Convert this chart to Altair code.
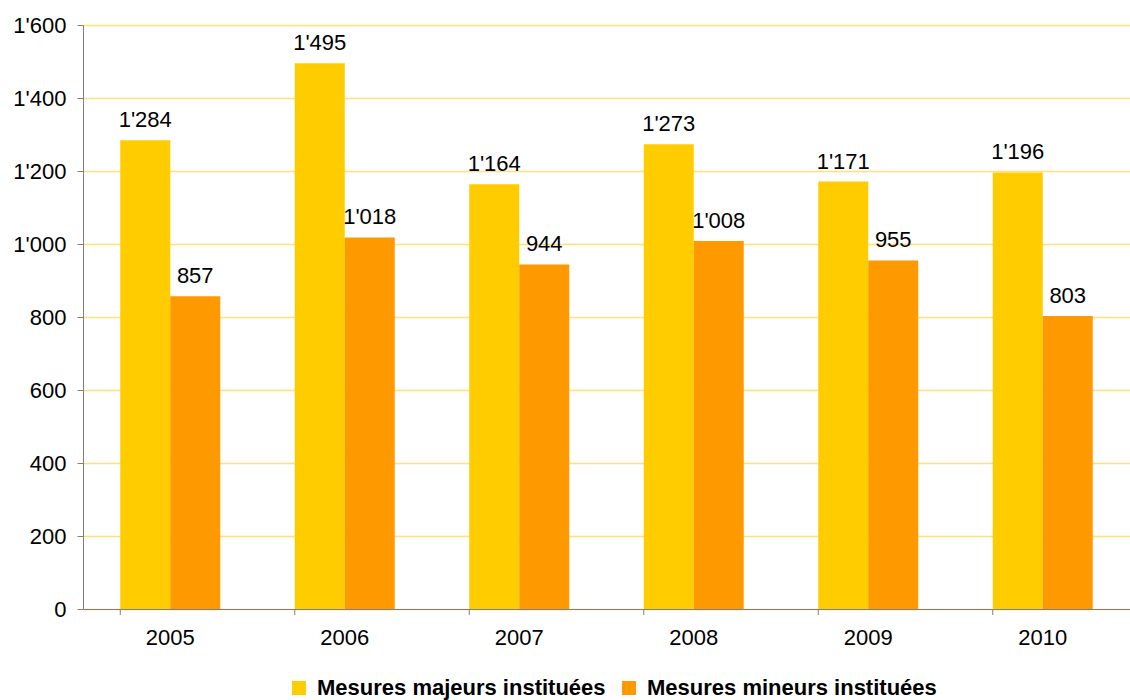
import altair as alt
import pandas as pd

years = ["2005", "2006", "2007", "2008", "2009", "2010"]
series = ["Mesures majeurs instituées", "Mesures mineurs instituées"]
majeurs = [1284, 1495, 1164, 1273, 1171, 1196]
mineurs = [857, 1018, 944, 1008, 955, 803]
colors = ["#FFCC00", "#FF9900"]
y_ticks = [0, 200, 400, 600, 800, 1000, 1200, 1400, 1600]

rows = []
for i, yr in enumerate(years):
    rows.append({"year": yr, "series": series[0], "value": majeurs[i]})
    rows.append({"year": yr, "series": series[1], "value": mineurs[i]})
df = pd.DataFrame(rows)

FONT = "Liberation Sans"
FS = 22
fmt_expr = "replace(format(datum.value, ','), ',', \"'\")"

xscale = alt.Scale(domain=years, paddingInner=0.427, paddingOuter=0.2135)
offscale = alt.Scale(domain=series, paddingInner=0, paddingOuter=0)
yscale = alt.Scale(domain=[0, 1600], nice=False)

x_axis = alt.Axis(
    orient="bottom", title=None, labelAngle=0, ticks=False, domain=True,
    domainColor="#808080", labelFontSize=FS, labelFont=FONT, labelColor="#000000",
    labelFontWeight="normal", labelPadding=18, grid=False,
)
y_axis = alt.Axis(
    title=None, values=y_ticks, labelExpr=fmt_expr, labelFontSize=FS,
    labelFont=FONT, labelColor="#000000", labelPadding=11, tickSize=6,
    tickColor="#808080", domainColor="#808080", gridColor="#FFE07A",
    gridWidth=1.5,
)

base = alt.Chart(df).transform_calculate(lab=fmt_expr)

bars = base.mark_bar().encode(
    x=alt.X("year:N", scale=xscale, axis=x_axis),
    xOffset=alt.XOffset("series:N", scale=offscale, sort=series),
    y=alt.Y("value:Q", scale=yscale, axis=y_axis),
    color=alt.Color(
        "series:N", sort=series,
        scale=alt.Scale(domain=series, range=colors),
        legend=alt.Legend(
            title=None, orient="none", direction="horizontal", legendX=205,
            legendY=652, symbolType="square", symbolSize=196,
            symbolStrokeWidth=0, labelFontSize=FS, labelFont=FONT,
            labelFontWeight="bold", labelColor="#000000", labelLimit=600,
            columnPadding=12, labelOffset=7, padding=0,
        ),
    ),
)

texts = base.mark_text(
    baseline="alphabetic", align="center", dy=-13, fontSize=FS, font=FONT,
    color="#000000",
).encode(
    x=alt.X("year:N", scale=xscale, axis=x_axis),
    xOffset=alt.XOffset("series:N", scale=offscale, sort=series),
    y=alt.Y("value:Q", scale=yscale, axis=y_axis),
    text="lab:N",
)

tick_df = pd.DataFrame({"year": years})
ticks = alt.Chart(tick_df).mark_rule(color="#808080", strokeWidth=1).encode(
    x=alt.X("year:N", scale=xscale, axis=x_axis, bandPosition=0),
    y=alt.value(584),
    y2=alt.value(590),
)

chart = alt.layer(bars, texts, ticks).properties(
    width=1047, height=584,
    padding={"left": 83, "top": 25, "right": 0, "bottom": 91},
    autosize="none",
).configure_view(stroke=None).configure(background="white")

chart.save("out.html", embed_options={"renderer": "svg", "actions": False})
